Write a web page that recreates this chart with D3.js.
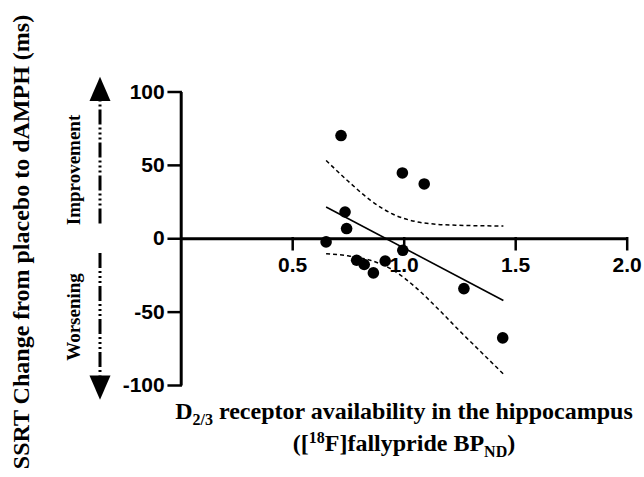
<!DOCTYPE html>
<html>
<head>
<meta charset="utf-8">
<script src="https://cdn.jsdelivr.net/npm/d3@7"></script>
<style>
  body { margin: 0; background: #fff; }
  svg { display: block; }
  .tick text { font-family: "Liberation Sans", Arial, sans-serif; font-weight: bold; font-size: 21px; fill: #000; }
  .title { font-family: "Liberation Serif", "Times New Roman", serif; font-weight: bold; fill: #000; }
</style>
</head>
<body>
<svg id="chart" width="644" height="477"></svg>
<script>
// D2/3 BPnd (x) vs SSRT change (y)
const bpnd = [0.719, 0.994, 1.092, 0.737, 0.744, 0.652, 0.996, 0.789, 0.823, 0.864, 0.917, 1.270, 1.444];
const ssrtChange = [70.0, 44.5, 37.0, 17.9, 6.6, -2.5, -8.2, -15.0, -17.9, -23.6, -15.5, -34.3, -67.9];

// regression line ends
const fitX = [0.652, 1.447];
const fitY = [21.3, -42.4];

// 95% confidence band
const bandX = [0.652, 0.75, 0.85, 0.95, 1.05, 1.15, 1.25, 1.35, 1.447];
const bandUpper = [53, 39, 26, 16.5, 11.5, 9.5, 8.8, 8.5, 8.3];
const bandLower = [-10.5, -12, -15, -21.5, -33, -47.5, -63, -78, -92.5];

const xTicks = [0.5, 1.0, 1.5, 2.0];
const yTicks = [-100, -50, 0, 50, 100];

const svg = d3.select("#chart");

const x = d3.scaleLinear().domain([0, 2]).range([180.7, 626.7]);
const y = d3.scaleLinear().domain([-100, 100]).range([385, 91.5]);

// y axis
const yAxis = svg.append("g")
    .attr("transform", `translate(${x(0)},0)`)
    .call(d3.axisLeft(y).tickValues(yTicks).tickFormat(d => String(d)).tickSize(12).tickSizeOuter(0).tickPadding(4));

// x axis through zero
const xAxis = svg.append("g")
    .attr("transform", `translate(0,${y(0)})`)
    .call(d3.axisBottom(x).tickValues(xTicks).tickFormat(d3.format(".1f")).tickSize(11).tickSizeOuter(0).tickPadding(8));

[yAxis, xAxis].forEach(g => {
  g.select(".domain").attr("stroke", "#000").attr("stroke-width", 3);
  g.selectAll(".tick line").attr("stroke", "#000").attr("stroke-width", 2.5).attr("stroke-linecap", "square");
});

// confidence band
const bandLine = d3.line().x(d => x(d[0])).y(d => y(d[1])).curve(d3.curveMonotoneX);
[bandUpper, bandLower].forEach(vals => {
  svg.append("path")
      .datum(bandX.map((v, i) => [v, vals[i]]))
      .attr("fill", "none")
      .attr("stroke", "#000")
      .attr("stroke-width", 1.5)
      .attr("stroke-dasharray", "4,3")
      .attr("d", bandLine);
});

// fit line
svg.append("path")
    .datum(fitX.map((v, i) => [v, fitY[i]]))
    .attr("fill", "none")
    .attr("stroke", "#000")
    .attr("stroke-width", 1.6)
    .attr("d", d3.line().x(d => x(d[0])).y(d => y(d[1])));

// points
svg.append("g").selectAll("circle")
    .data(bpnd.map((v, i) => ({ bp: v, ssrt: ssrtChange[i] })))
    .enter().append("circle")
    .attr("cx", d => x(d.bp))
    .attr("cy", d => y(d.ssrt))
    .attr("r", 5.8)
    .attr("fill", "#000");

// direction arrows (in y units)
const arrowX = 100;
const arrows = [
  { from: 10, to: 93.5, tip: 110 },
  { from: -10, to: -93.5, tip: -110 }
];
arrows.forEach(a => {
  svg.append("line")
      .attr("x1", arrowX).attr("x2", arrowX)
      .attr("y1", y(a.from)).attr("y2", y(a.to))
      .attr("stroke", "#000")
      .attr("stroke-width", 3)
      .attr("stroke-dasharray", "15,3,2,3,2,3,2,3");
  svg.append("path")
      .attr("d", `M${arrowX},${y(a.tip)}L${arrowX - 10.5},${y(a.to)}L${arrowX + 10.5},${y(a.to)}Z`)
      .attr("fill", "#000");
});

svg.append("text").attr("class", "title")
    .attr("transform", "translate(80,170) rotate(-90)")
    .attr("text-anchor", "middle").style("font-size", "19px")
    .text("Improvement");
svg.append("text").attr("class", "title")
    .attr("transform", "translate(80,317) rotate(-90)")
    .attr("text-anchor", "middle").style("font-size", "19px")
    .text("Worsening");

// y title
svg.append("text").attr("class", "title")
    .attr("transform", "translate(29,242) rotate(-90)")
    .attr("text-anchor", "middle").style("font-size", "24px")
    .text("SSRT Change from placebo to dAMPH (ms)");

// x title, two lines with sub/superscripts
const t1 = svg.append("text").attr("class", "title")
    .attr("x", 404).attr("y", 419)
    .attr("text-anchor", "middle").style("font-size", "24px");
t1.append("tspan").text("D");
t1.append("tspan").attr("dy", 6).style("font-size", "16px").text("2/3");
t1.append("tspan").attr("dy", -6).text(" receptor availability in the hippocampus");

const t2 = svg.append("text").attr("class", "title")
    .attr("x", 404).attr("y", 451)
    .attr("text-anchor", "middle").style("font-size", "24px");
t2.append("tspan").text("([");
t2.append("tspan").attr("dy", -8).style("font-size", "16px").text("18");
t2.append("tspan").attr("dy", 8).text("F]fallypride BP");
t2.append("tspan").attr("dy", 6).style("font-size", "16px").text("ND");
t2.append("tspan").attr("dy", -6).text(")");
</script>
</body>
</html>
